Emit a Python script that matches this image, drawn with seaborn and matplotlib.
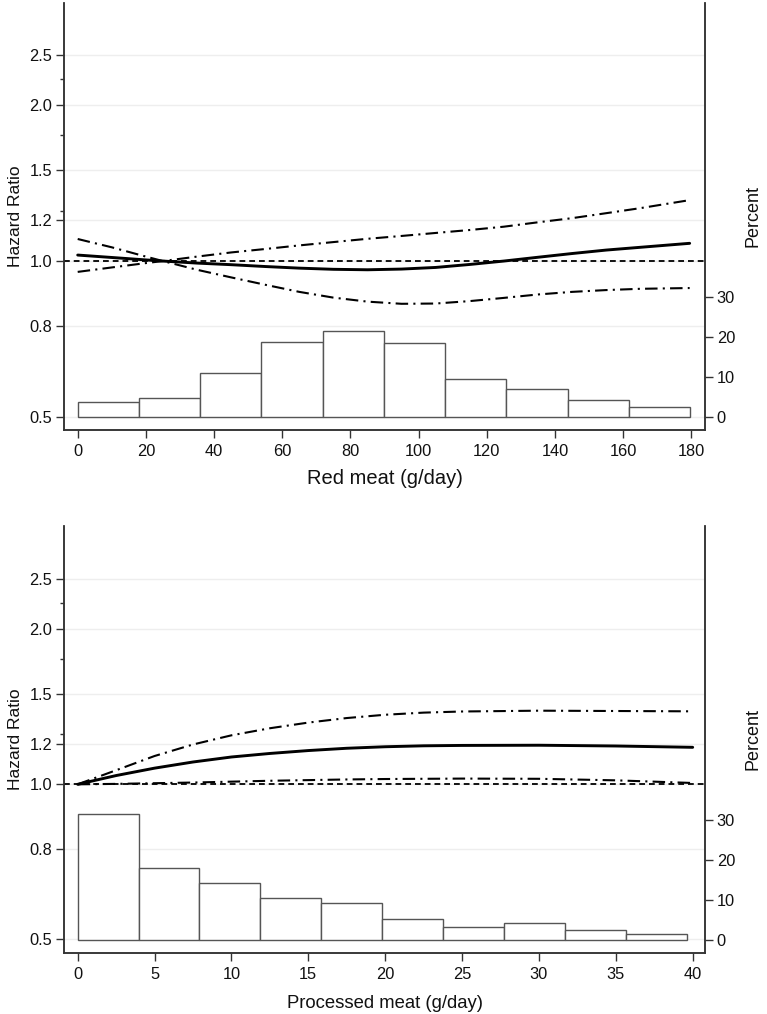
import numpy as np
import pandas as pd
import matplotlib
matplotlib.use("Agg")
import matplotlib.pyplot as plt
import seaborn as sns
from matplotlib.ticker import FixedLocator, FixedFormatter, NullFormatter

# ---------------- data ----------------
red_x = [0, 10, 20, 25, 35, 45, 55, 65, 75, 85, 95, 105, 115, 125, 135, 145, 155, 165, 179.5]
red_hr = [1.027, 1.016, 1.005, 1.0, 0.991, 0.984, 0.976, 0.969, 0.964, 0.962, 0.965, 0.972,
          0.985, 1.0, 1.017, 1.034, 1.05, 1.063, 1.082]
red_upper = [0.953, 0.972, 0.991, 1.0, 1.02, 1.039, 1.055, 1.072, 1.088, 1.104, 1.118, 1.133,
             1.148, 1.165, 1.188, 1.21, 1.237, 1.265, 1.311]
red_lower = [1.103, 1.063, 1.02, 1.0, 0.962, 0.93, 0.900, 0.872, 0.85, 0.835, 0.827, 0.828,
             0.837, 0.849, 0.862, 0.872, 0.879, 0.884, 0.887]
red_bin_edges = [0, 17.96, 35.92, 53.88, 71.84, 89.8, 107.76, 125.72, 143.68, 161.64, 179.6]
red_pct = [3.7, 4.7, 10.9, 18.8, 21.6, 18.6, 9.4, 7.1, 4.25, 2.4]
red_xticks = [0, 20, 40, 60, 80, 100, 120, 140, 160, 180]

proc_x = [0, 2.5, 5, 7.5, 10, 12.5, 15, 17.5, 20, 22.5, 25, 30, 35, 40]
proc_hr = [1.0, 1.04, 1.075, 1.105, 1.13, 1.148, 1.163, 1.175, 1.183, 1.188, 1.19, 1.191, 1.187, 1.18]
proc_upper = [1.0, 1.065, 1.135, 1.195, 1.245, 1.285, 1.318, 1.345, 1.365, 1.378, 1.385, 1.39, 1.388, 1.386]
proc_lower = [1.0, 1.002, 1.005, 1.008, 1.012, 1.016, 1.019, 1.022, 1.024, 1.025, 1.026, 1.025, 1.018, 1.006]
proc_bin_edges = [0, 3.96, 7.92, 11.88, 15.84, 19.8, 23.76, 27.72, 31.68, 35.64, 39.6]
proc_pct = [31.4, 18.1, 14.3, 10.4, 9.2, 5.3, 3.2, 4.2, 2.6, 1.6]
proc_xticks = [0, 5, 10, 15, 20, 25, 30, 35, 40]

hr_ticks = [0.5, 0.75, 1.0, 1.2, 1.5, 2.0, 2.5]
hr_ticklabels = ["0.5", "0.8", "1.0", "1.2", "1.5", "2.0", "2.5"]
hr_minor = [1.25, 1.75, 2.25]
pct_ticks = [0, 10, 20, 30]

# ---------------- style ----------------
sns.set_theme(style="white")
plt.rcParams["font.family"] = ["Liberation Sans", "DejaVu Sans"]

fig = plt.figure(figsize=(7.67, 10.14), dpi=100)
W, H = 767, 1014

def px_axes(l, t, r, b):
    return fig.add_axes([l / W, 1 - b / H, (r - l) / W, (b - t) / H])

axA = px_axes(64.3, 3, 705, 430)
axB = px_axes(64.3, 525.7, 705, 953.3)

spine_col = "#333333"
text_col = "#111111"
dashdot = (0, (6, 2.5, 1, 2.5))

def draw_panel(ax, x, hr, up, lo, edges, pct, xticks, xlim, ylim, pctlim, xlabel, xlab_size, xlabpad):
    ax.set_yscale("log")
    ax.set_facecolor("white")
    ax.yaxis.grid(True, color="#eeeeee", lw=1.0)
    ax.xaxis.grid(False)
    ax.axhline(1.0, color="black", lw=1.3, linestyle=(0, (3.2, 2.2)), zorder=3)
    sns.lineplot(x=x, y=up, ax=ax, color="black", lw=1.5, linestyle=dashdot, zorder=4)
    sns.lineplot(x=x, y=lo, ax=ax, color="black", lw=1.5, linestyle=dashdot, zorder=4)
    sns.lineplot(x=x, y=hr, ax=ax, color="black", lw=2.1, zorder=5)

    ax.yaxis.set_major_locator(FixedLocator(hr_ticks))
    ax.yaxis.set_major_formatter(FixedFormatter(hr_ticklabels))
    ax.yaxis.set_minor_locator(FixedLocator(hr_minor))
    ax.yaxis.set_minor_formatter(NullFormatter())
    ax.set_ylim(*ylim)
    ax.set_ylabel("Hazard Ratio", fontsize=12.5, labelpad=5)

    ax2 = ax.twinx()
    centers = [(edges[i] + edges[i + 1]) / 2 for i in range(len(pct))]
    sns.histplot(x=centers, weights=pct, bins=edges, ax=ax2, stat="count",
                 color="white", edgecolor="#555555", linewidth=1.0, alpha=1.0)
    ax2.set_ylim(*pctlim)
    ax2.set_yticks(pct_ticks)
    ax2.set_yticklabels([str(t) for t in pct_ticks])
    ax2.set_ylabel("Percent", fontsize=13, labelpad=7)
    ax2.grid(False)

    ax.set_xlim(*xlim)
    ax.set_xticks(xticks)
    ax.set_xticklabels([str(t) for t in xticks])
    ax.set_xlabel(xlabel, fontsize=xlab_size, labelpad=xlabpad)

    for a in (ax, ax2):
        a.spines["top"].set_visible(False)
        for s in ("left", "right", "bottom"):
            a.spines[s].set_color(spine_col)
            a.spines[s].set_linewidth(1.1)
        a.tick_params(axis="both", which="major", direction="out", length=5.5, width=1,
                      color=spine_col, labelsize=11.8, pad=3, labelcolor=text_col)
    ax.tick_params(axis="y", which="minor", direction="out", length=3, width=1,
                   color=spine_col, left=True)
    ax.tick_params(axis="x", pad=4.5, bottom=True)
    ax.tick_params(axis="y", left=True)
    ax2.tick_params(axis="y", right=True)
    ax.yaxis.label.set_color(text_col)
    ax2.yaxis.label.set_color(text_col)
    ax.xaxis.label.set_color(text_col)

draw_panel(axA, red_x, red_hr, red_upper, red_lower, red_bin_edges, red_pct, red_xticks,
           (-3.93, 184.0), (0.472, 3.148), (-3.25, 103.5), "Red meat (g/day)", 14.5, 7)
draw_panel(axB, proc_x, proc_hr, proc_upper, proc_lower, proc_bin_edges, proc_pct, proc_xticks,
           (-0.87, 40.8), (0.4697, 3.179), (-3.33, 103.6), "Processed meat (g/day)", 13.3, 9)

fig.savefig("out.png", dpi=100)
